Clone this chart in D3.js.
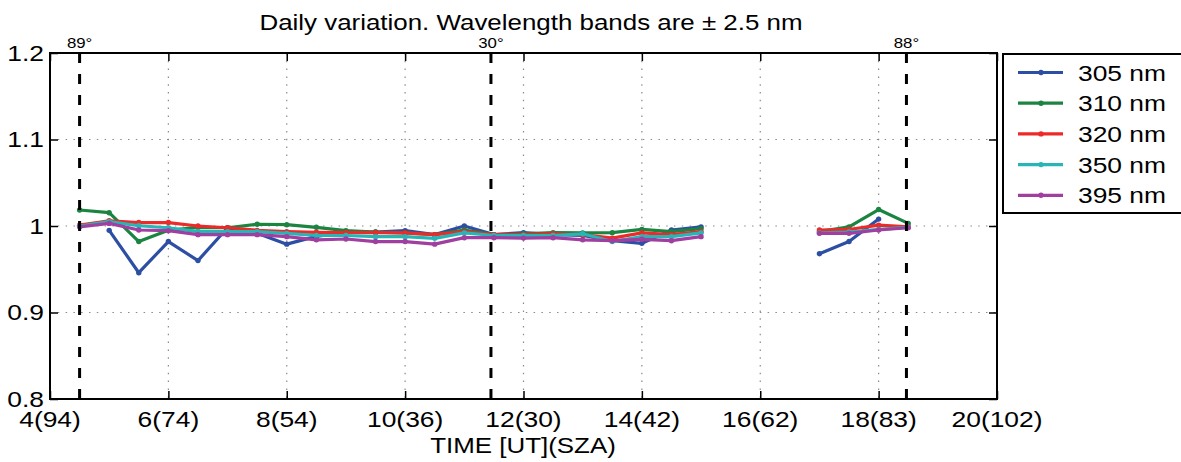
<!DOCTYPE html>
<html>
<head>
<meta charset="utf-8">
<script src="https://cdn.jsdelivr.net/npm/d3@7"></script>
<style>
  body { margin: 0; background: #fff; }
  svg { display: block; font-family: 'Liberation Sans', Arial, Helvetica, sans-serif; }
</style>
</head>
<body>
<div id="chart"></div>
<script>
const width = 1181;
const height = 462;
// the original figure is stretched sideways, so text gets the same stretch
const stretch = 1.2;

const times = [4.5, 5, 5.5, 6, 6.5, 7, 7.5, 8, 8.5, 9, 9.5, 10, 10.5, 11, 11.5, 12, 12.5, 13, 13.5, 14, 14.5, 15, 15.5, 16, 16.5, 17, 17.5, 18, 18.5];

const nm305 = [null, 0.995, 0.946, 0.982, 0.960, 0.998, 0.9915, 0.979, 0.988, 0.993, 0.993, 0.9946, 0.990, 1.0, 0.990, 0.9923, 0.990, 0.989, 0.983, 0.980, 0.9954, 0.999, null, null, null, 0.968, 0.982, 1.008, null];
const nm310 = [1.0185, 1.0154, 0.982, 0.995, 0.9985, 0.998, 1.002, 1.0015, 0.9985, 0.9946, 0.993, 0.992, 0.990, 0.9954, 0.990, 0.991, 0.9923, 0.992, 0.9923, 0.996, 0.9935, 0.997, null, null, null, 0.9935, 0.999, 1.019, 1.003];
const nm320 = [1.001, 1.006, 1.004, 1.004, 1.0, 0.998, 0.995, 0.9935, 0.9927, 0.9923, 0.9923, 0.992, 0.990, 0.9935, 0.990, 0.990, 0.991, 0.990, 0.986, 0.992, 0.990, 0.9935, null, null, null, 0.9954, 0.996, 1.001, 0.999];
const nm350 = [1.0, 1.005, 1.0003, 0.998, 0.9935, 0.9935, 0.9935, 0.9915, 0.989, 0.989, 0.9877, 0.9877, 0.9857, 0.992, 0.989, 0.989, 0.989, 0.991, 0.982, 0.9877, 0.9877, 0.992, null, null, null, 0.992, 0.993, 0.996, 0.9985];
const nm395 = [0.999, 1.003, 0.9954, 0.9946, 0.990, 0.990, 0.990, 0.9877, 0.984, 0.985, 0.982, 0.982, 0.979, 0.9865, 0.9865, 0.986, 0.9865, 0.984, 0.983, 0.9846, 0.983, 0.9877, null, null, null, 0.9915, 0.9915, 0.9954, 0.998];

const seriesNames = ['305 nm', '310 nm', '320 nm', '350 nm', '395 nm'];
const seriesValues = [nm305, nm310, nm320, nm350, nm395];
const seriesColors = ['#2d4fa3', '#1b8441', '#ec2a2a', '#26b6b6', '#a03fa0'];

const xTicks = [4, 6, 8, 10, 12, 14, 16, 18, 20];
const xTickLabels = ['4(94)', '6(74)', '8(54)', '10(36)', '12(30)', '14(42)', '16(62)', '18(83)', '20(102)'];
const yTicks = [0.8, 0.9, 1, 1.1, 1.2];
const yTickLabels = ['0.8', '0.9', '1', '1.1', '1.2'];

const markTimes = [4.5, 11.45, 18.47];
const markLabels = ['89°', '30°', '88°'];

const plotLeft = 50, plotRight = 997, plotTop = 53, plotBottom = 399;

const svg = d3.select('#chart').append('svg')
  .attr('width', width)
  .attr('height', height);

const x = d3.scaleLinear().domain([4, 20]).range([plotLeft, plotRight]);
const y = d3.scaleLinear().domain([0.8, 1.2]).range([plotBottom, plotTop]);

function label(g, px, py, str, size, anchor) {
  return g.append('text')
    .attr('transform', `translate(${px},${py}) scale(${stretch},1)`)
    .attr('text-anchor', anchor || 'middle')
    .attr('font-size', size)
    .attr('fill', '#000')
    .text(str);
}

// grid
const grid = svg.append('g').attr('stroke', '#8a8a8a').attr('stroke-width', 1.2).attr('stroke-dasharray', '1.5,6.3');
grid.selectAll('line.gx').data(xTicks.slice(1, -1)).enter().append('line')
  .attr('x1', (d) => x(d)).attr('x2', (d) => x(d))
  .attr('y1', plotTop).attr('y2', plotBottom);
grid.selectAll('line.gy').data(yTicks.slice(1, -1)).enter().append('line')
  .attr('x1', plotLeft).attr('x2', plotRight)
  .attr('y1', (d) => y(d)).attr('y2', (d) => y(d));

// axes (ticks inside, box style)
const tickLen = 8;
svg.append('g').attr('transform', `translate(0,${plotBottom})`)
  .call(d3.axisBottom(x).tickValues(xTicks).tickSize(-tickLen).tickFormat(''));
svg.append('g').attr('transform', `translate(0,${plotTop})`)
  .call(d3.axisTop(x).tickValues(xTicks).tickSize(-tickLen).tickFormat(''));
svg.append('g').attr('transform', `translate(${plotLeft},0)`)
  .call(d3.axisLeft(y).tickValues(yTicks).tickSize(-tickLen).tickFormat(''));
svg.append('g').attr('transform', `translate(${plotRight},0)`)
  .call(d3.axisRight(y).tickValues(yTicks).tickSize(-tickLen).tickFormat(''));
svg.selectAll('.domain').remove();
svg.selectAll('.tick line').attr('stroke', '#000').attr('stroke-width', 1.5);

svg.append('rect')
  .attr('x', plotLeft).attr('y', plotTop)
  .attr('width', plotRight - plotLeft).attr('height', plotBottom - plotTop)
  .attr('fill', 'none').attr('stroke', '#000').attr('stroke-width', 2);

// tick labels
const tl = svg.append('g');
xTicks.forEach((t, i) => label(tl, x(t), 427, xTickLabels[i], 22));
yTicks.forEach((t, i) => label(tl, 44, y(t) + 7.5, yTickLabels[i], 22, 'end'));

// series
const line = d3.line()
  .defined((d) => d[1] !== null)
  .x((d) => x(d[0]))
  .y((d) => y(d[1]));

seriesValues.forEach((vals, i) => {
  const pts = times.map((t, j) => [t, vals[j]]);
  const g = svg.append('g');
  g.append('path')
    .datum(pts)
    .attr('d', line)
    .attr('fill', 'none')
    .attr('stroke', seriesColors[i])
    .attr('stroke-width', 3.2)
    .attr('stroke-linejoin', 'round');
  g.selectAll('circle').data(pts.filter((d) => d[1] !== null)).enter().append('circle')
    .attr('cx', (d) => x(d[0]))
    .attr('cy', (d) => y(d[1]))
    .attr('r', 2.7)
    .attr('fill', seriesColors[i]);
});

// zenith-angle markers
svg.selectAll('line.mark').data(markTimes).enter().append('line')
  .attr('class', 'mark')
  .attr('x1', (d) => x(d)).attr('x2', (d) => x(d))
  .attr('y1', plotTop).attr('y2', plotBottom)
  .attr('stroke', '#000').attr('stroke-width', 3)
  .attr('stroke-dasharray', '10,11');
markTimes.forEach((t, i) => label(svg, x(t), 48, markLabels[i], 14));

// titles
label(svg, 531, 30, 'Daily variation. Wavelength bands are ± 2.5 nm', 21.6);
label(svg, 523, 453, 'TIME [UT](SZA)', 21.6);

// legend
const lg = svg.append('g');
lg.append('rect')
  .attr('x', 1003).attr('y', 54)
  .attr('width', 200).attr('height', 159)
  .attr('fill', '#fff').attr('stroke', '#000').attr('stroke-width', 2);
seriesNames.forEach((name, i) => {
  const ly = 72.5 + i * 30.7;
  lg.append('line')
    .attr('x1', 1018).attr('x2', 1063)
    .attr('y1', ly).attr('y2', ly)
    .attr('stroke', seriesColors[i]).attr('stroke-width', 3.2);
  lg.append('circle').attr('cx', 1041).attr('cy', ly).attr('r', 2.7).attr('fill', seriesColors[i]);
  label(lg, 1078, ly + 8, name, 22, 'start');
});
</script>
</body>
</html>
